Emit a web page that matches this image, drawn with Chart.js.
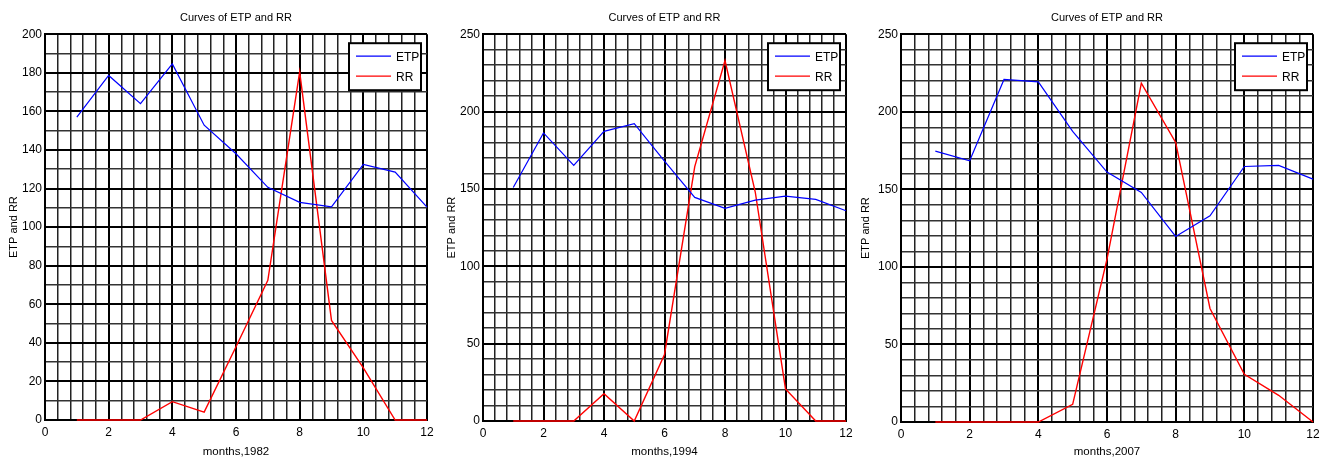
<!DOCTYPE html>
<html>
<head>
<meta charset="utf-8">
<script src="https://cdn.jsdelivr.net/npm/chart.js@4.4.1/dist/chart.umd.min.js"></script>
<style>
    body { margin: 0; background: #fff; }
    .box { position: absolute; top: 0; height: 461px; }
</style>
</head>
<body>
<div class="box" style="left:0px;width:440px"><canvas id="chart-1982" width="440" height="461"></canvas></div>
<div class="box" style="left:440px;width:420px"><canvas id="chart-1994" width="420" height="461"></canvas></div>
<div class="box" style="left:855px;width:475px"><canvas id="chart-2007" width="475" height="461"></canvas></div>
<script>
// months on the x axis
const months = [1, 2, 3, 4, 5, 6, 7, 8, 9, 10, 11, 12];

// 1982
const etp1982 = [157, 178.6, 164, 184.6, 152.8, 138, 120.6, 112.8, 110.5, 132.5, 128.5, 110.4];
const rr1982 = [0, 0, 0, 9.5, 4.1, 38, 72.4, 180.5, 51.6, 27, 0, 0];

// 1994
const etp1994 = [150.9, 186.2, 165.2, 187.2, 192.2, 168, 144.5, 137.4, 142.8, 145.4, 143.2, 135.9];
const rr1994 = [0, 0, 0, 17.7, 0, 43, 164.4, 233, 148, 20.7, 0, 0];

// 2007
const etp2007 = [174.6, 168.4, 220.8, 219.3, 187.3, 161.1, 148, 119.6, 132.9, 164.7, 165.4, 156.6];
const rr2007 = [0, 0, 0, 0, 11.4, 105, 218.4, 180.2, 73.2, 30.7, 17.2, 0];

const FONT = "'Liberation Sans', Arial, sans-serif";

const isMultiple = (v, step) => Math.abs(v / step - Math.round(v / step)) < 1e-6;

// legend drawn inside the plot, top right, with a black frame
const boxLegend = {
    id: "boxLegend",
    afterDraw(chart) {
        const { ctx, chartArea } = chart;
        const w = 72, h = 47;
        const left = chartArea.right - 6 - w;
        const top = chartArea.top + 9;
        ctx.save();
        ctx.fillStyle = "#fff";
        ctx.fillRect(left, top, w, h);
        ctx.strokeStyle = "#000";
        ctx.lineWidth = 2;
        ctx.strokeRect(left, top, w, h);
        ctx.font = "12px " + FONT;
        ctx.textBaseline = "middle";
        chart.data.datasets.forEach((ds, i) => {
            const y = top + 13 + i * 20;
            ctx.strokeStyle = ds.borderColor;
            ctx.lineWidth = 1.2;
            ctx.beginPath();
            ctx.moveTo(left + 7, y);
            ctx.lineTo(left + 42, y);
            ctx.stroke();
            ctx.fillStyle = "#000";
            ctx.fillText(ds.label, left + 47, y + 1);
        });
        ctx.restore();
    }
};

const makeChart = (id, year, etp, rr, yMax, yLabelStep, yWidth, xHeight, padRight, yTitlePad) => {
    const ctx = document.getElementById(id).getContext("2d");

    new Chart(ctx, {
        type: "line",
        data: {
            datasets: [{
                label: "ETP",
                data: months.map((m, i) => ({ x: m, y: etp[i] })),
                borderColor: "#0000ff",
                borderWidth: 1.2,
                pointRadius: 0,
                tension: 0,
                clip: false
            }, {
                label: "RR",
                data: months.map((m, i) => ({ x: m, y: rr[i] })),
                borderColor: "#ff0000",
                borderWidth: 1.4,
                pointRadius: 0,
                tension: 0,
                clip: false
            }]
        },
        plugins: [boxLegend],
        options: {
            responsive: false,
            animation: false,
            layout: {
                padding: { left: 0, right: padRight, top: 0, bottom: 0 }
            },
            plugins: {
                legend: { display: false },
                tooltip: { enabled: false },
                title: {
                    display: true,
                    text: "Curves of ETP and RR",
                    fullSize: false,
                    color: "#000",
                    font: { family: FONT, size: 11, weight: "normal" },
                    padding: { top: 11, bottom: 10 }
                }
            },
            scales: {
                x: {
                    type: "linear",
                    min: 0,
                    max: 12,
                    afterFit: scale => { scale.height = xHeight; },
                    ticks: {
                        stepSize: 0.4,
                        autoSkip: false,
                        maxRotation: 0,
                        padding: 5,
                        color: "#000",
                        font: { family: FONT, size: 12 },
                        callback: v => isMultiple(v, 2) ? Math.round(v) : ""
                    },
                    grid: {
                        drawTicks: false,
                        color: c => isMultiple(c.tick.value, 2) ? "#000" : "#222",
                        lineWidth: c => isMultiple(c.tick.value, 2) ? 2 : 1.5
                    },
                    border: { color: "#000", width: 2 },
                    title: {
                        display: true,
                        text: "months," + year,
                        color: "#000",
                        font: { family: FONT, size: 11.5 },
                        padding: { top: 0, bottom: 2 }
                    }
                },
                y: {
                    min: 0,
                    max: yMax,
                    afterFit: scale => { scale.width = yWidth; },
                    ticks: {
                        stepSize: 10,
                        autoSkip: false,
                        padding: 3,
                        color: "#000",
                        font: { family: FONT, size: 12 },
                        callback: v => isMultiple(v, yLabelStep) ? v : ""
                    },
                    grid: {
                        drawTicks: false,
                        color: c => isMultiple(c.tick.value, yLabelStep) ? "#000" : "#333",
                        lineWidth: c => isMultiple(c.tick.value, yLabelStep) ? 2 : 1.5
                    },
                    border: { color: "#000", width: 2 },
                    title: {
                        display: true,
                        text: "ETP and RR",
                        color: "#000",
                        font: { family: FONT, size: 11 },
                        padding: { top: yTitlePad, bottom: 0 }
                    }
                }
            }
        }
    });
}

window.onload = () => {
    makeChart("chart-1982", 1982, etp1982, rr1982, 200, 20, 45, 41, 13, 7);
    makeChart("chart-1994", 1994, etp1994, rr1994, 250, 50, 43, 40, 14, 5.4);
    makeChart("chart-2007", 2007, etp2007, rr2007, 250, 50, 46, 39, 17, 4.4);
};
</script>
</body>
</html>
